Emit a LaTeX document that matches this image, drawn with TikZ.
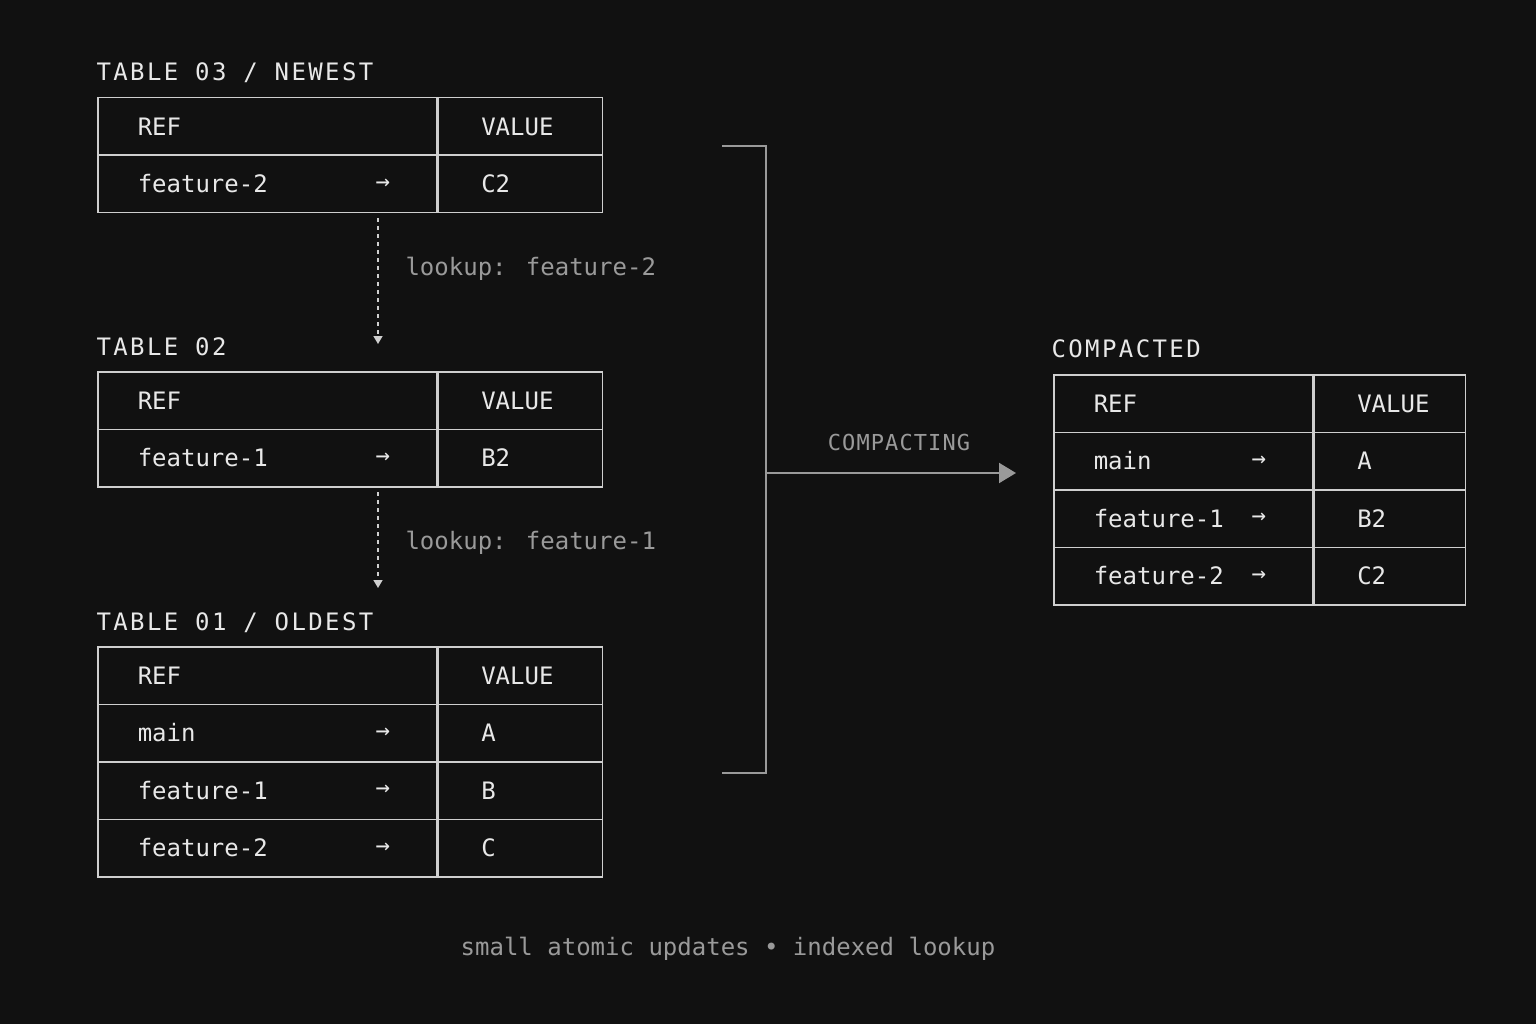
\documentclass[tikz,border=0pt]{standalone}
\usepackage{fontspec}
\setmainfont{DejaVu Sans Mono}
\usetikzlibrary{positioning,arrows.meta}
\definecolor{bg}{HTML}{111111}
\definecolor{linec}{HTML}{CFCFCF}
\definecolor{txt}{HTML}{E8E8E8}
\definecolor{dim}{HTML}{9A9A9A}

% one row of a table: name, x, y, left width, right width, ref, value, arrow?
\newcommand{\tabrow}[8]{%
  \node[cell, minimum width=#4pt, text width=#4pt-80pt] (#1l) at (#2,#3) {#6};
  \node[cell, minimum width=#5pt, text width=#5pt-86pt, right=0pt of #1l] (#1r) {#7};
  \ifx#8y\node[txt, left=44pt of #1l.east] (#1a) {→};\fi
}

\begin{document}
\begin{tikzpicture}[
    x=1pt, y=-1pt,
    font=\fontsize{24}{28}\selectfont,
    cell/.style={draw=linec, line width=1.5pt, minimum height=57.5pt, inner xsep=40pt,
                 align=left, anchor=north west, text=txt},
    title/.style={anchor=west, text=txt, font=\fontsize{24}{28}\selectfont\addfontfeature{LetterSpace=10}},
    note/.style={anchor=west, text=dim},
    lookuparrow/.style={-{Triangle[width=9pt,length=8pt]}, draw=linec, line width=1.5pt, dash pattern=on 4pt off 4pt},
    conn/.style={draw=dim, line width=2pt}
]
    \fill[bg] (0,0) rectangle (1536,1024);
    \useasboundingbox (0,0) rectangle (1536,1024);

    % table 03
    \node[title] (t3t) at (93,73) {TABLE 03 / NEWEST};
    \tabrow{t3h}{97}{97}{339}{164}{REF}{VALUE}{n}
    \tabrow{t3a}{97}{154.5}{339}{164}{feature-2}{C2}{y}

    % table 02
    \node[title] (t2t) at (93,347) {TABLE 02};
    \tabrow{t2h}{97}{371}{339}{164}{REF}{VALUE}{n}
    \tabrow{t2a}{97}{428.5}{339}{164}{feature-1}{B2}{y}

    % table 01
    \node[title] (t1t) at (93,623) {TABLE 01 / OLDEST};
    \tabrow{t1h}{97}{646}{339}{164}{REF}{VALUE}{n}
    \tabrow{t1a}{97}{703.5}{339}{164}{main}{A}{y}
    \tabrow{t1b}{97}{761}{339}{164}{feature-1}{B}{y}
    \tabrow{t1c}{97}{818.5}{339}{164}{feature-2}{C}{y}

    % compacted
    \node[title] (tct) at (1048,349) {COMPACTED};
    \tabrow{tch}{1053}{374}{259}{151}{REF}{VALUE}{n}
    \tabrow{tca}{1053}{431.5}{259}{151}{main}{A}{y}
    \tabrow{tcb}{1053}{489}{259}{151}{feature-1}{B2}{y}
    \tabrow{tcc}{1053}{546.5}{259}{151}{feature-2}{C2}{y}

    % lookups
    \coordinate (d1s) at (378,218);
    \coordinate (d1e) at (378,344);
    \coordinate (d2s) at (378,492);
    \coordinate (d2e) at (378,588);
    \draw[lookuparrow] (d1s) -- (d1e);
    \draw[lookuparrow] (d2s) -- (d2e);
    \node[note] (l1) at (402,269) {lookup: feature-2};
    \node[note] (l2) at (402,543) {lookup: feature-1};

    % bracket and compaction
    \coordinate (bt) at (722,146);
    \coordinate (bb) at (722,773);
    \coordinate (bm) at (766,473);
    \coordinate (be) at (1016,473);
    \draw[conn] (bt) -| (bm) |- (bb);
    \draw[conn, -{Triangle[width=20pt,length=17pt]}] (bm) -- (be);
    \node[text=dim, font=\fontsize{22}{26}\selectfont\addfontfeature{LetterSpace=5}] (cl) at (899,442) {COMPACTING};

    % footer
    \node[text=dim] (foot) at (728,949) {small atomic updates \textbullet{} indexed lookup};
\end{tikzpicture}
\end{document}
